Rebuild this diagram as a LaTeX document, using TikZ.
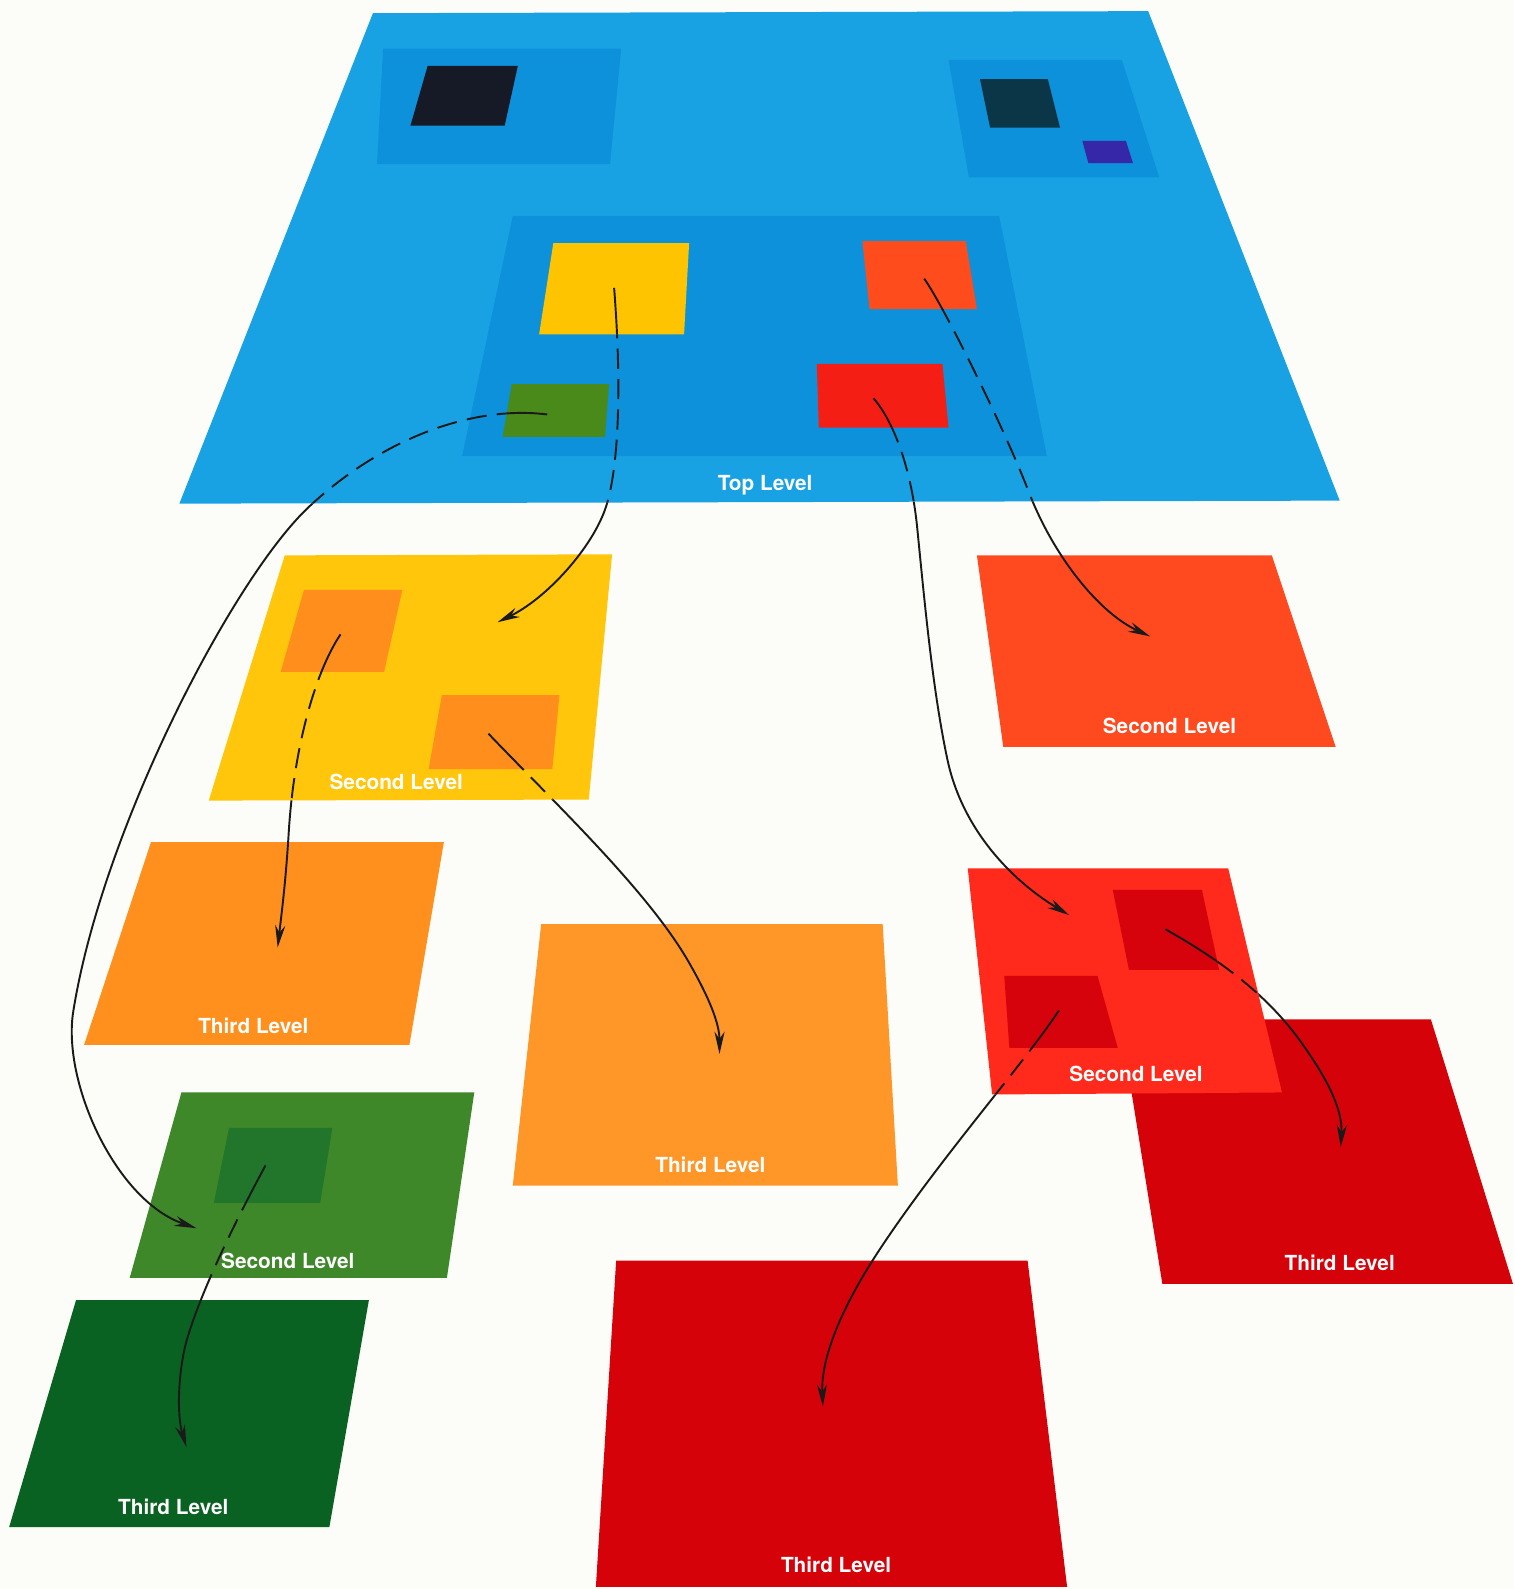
\documentclass[tikz,border=0pt]{standalone}
\usepackage{fontspec}
\newfontfamily\lblfont{TeX Gyre Heros}
\usetikzlibrary{arrows.meta}
\definecolor{cPaper}{RGB}{252,252,248}
\definecolor{cBlue}{RGB}{24,162,228}
\definecolor{cBlueIn}{RGB}{12,145,218}
\definecolor{cNavy}{RGB}{22,26,38}
\definecolor{cTeal}{RGB}{10,54,72}
\definecolor{cPurple}{RGB}{54,38,168}
\definecolor{cYellow}{RGB}{255,196,0}
\definecolor{cOrRed}{RGB}{255,76,28}
\definecolor{cGreenSq}{RGB}{74,138,26}
\definecolor{cRedSq}{RGB}{244,30,20}
\definecolor{cYelB}{RGB}{255,198,12}
\definecolor{cOrIn}{RGB}{255,142,28}
\definecolor{cOrB}{RGB}{255,74,32}
\definecolor{cOrC}{RGB}{255,144,30}
\definecolor{cOrD}{RGB}{255,150,40}
\definecolor{cRedB}{RGB}{255,42,28}
\definecolor{cRedIn}{RGB}{214,2,12}
\definecolor{cRedC}{RGB}{214,2,10}
\definecolor{cGrnB}{RGB}{62,136,42}
\definecolor{cGrnIn}{RGB}{34,118,44}
\definecolor{cGrnC}{RGB}{10,98,34}
\definecolor{cLine}{RGB}{26,26,26}

% planes and inner squares (image pixel coordinates, y downwards)
\def\PTop{(368,13) -- (1133,11) -- (1322,494) -- (177,497) -- cycle}
\def\QYel{(546,240) -- (680,240) -- (675,330) -- (532,330) -- cycle}
\def\QOrR{(851,238) -- (953,238) -- (964,305) -- (858,305) -- cycle}
\def\QGrn{(505,379) -- (601,379) -- (597,431) -- (496,431) -- cycle}
\def\QRed{(806,359) -- (930,359) -- (936,422) -- (808,422) -- cycle}
\def\PYelB{(281,548) -- (604,547) -- (581,789) -- (206,790) -- cycle}
\def\QOrA{(300,582) -- (397,582) -- (379,663) -- (277,663) -- cycle}
\def\QOrB{(436,686) -- (552,686) -- (545,759) -- (423,759) -- cycle}
\def\PRedB{(955,857) -- (1212,857) -- (1265,1078) -- (979,1080) -- cycle}
\def\QRdA{(1098,878) -- (1186,878) -- (1203,957) -- (1114,957) -- cycle}
\def\QRdB{(991,963) -- (1083,963) -- (1103,1034) -- (996,1034) -- cycle}
\def\PGrnB{(179,1078) -- (468,1078) -- (441,1261) -- (128,1261) -- cycle}
\def\QGrA{(226,1113) -- (328,1113) -- (316,1187) -- (211,1187) -- cycle}

\newcommand\linkdraw[3]{%
  \begin{scope}[even odd rule]
    \clip (-10,-10) rectangle (1504,1578) #1 #2;
    \draw[conn,-{Stealth[length=22pt,width=10pt]}] #3;
  \end{scope}
  \begin{scope}[even odd rule]
    \clip #1 #2;
    \draw[conn,dash pattern=on 20pt off 10pt] #3;
  \end{scope}}

\begin{document}
\begin{tikzpicture}[x=1pt,y=-1pt,
  lbl/.style={text=white,font=\lblfont\bfseries\fontsize{20.5}{24}\selectfont,inner sep=0pt},
  conn/.style={draw=cLine,line width=1.9pt}]
\useasboundingbox (0,0) rectangle (1494,1568);
\fill[cPaper] (0,0) rectangle (1494,1568);

% ---- top level ----
\fill[cBlue] \PTop;
\fill[cBlueIn] (378,48) -- (613,48) -- (602,162) -- (372,162) -- cycle;
\fill[cBlueIn] (936,59) -- (1107,59) -- (1144,175) -- (956,175) -- cycle;
\fill[cBlueIn] (506,213) -- (986,213) -- (1033,450) -- (456,450) -- cycle;
\fill[cNavy] (422,65) -- (511,65) -- (498,124) -- (405,124) -- cycle;
\fill[cTeal] (967,78) -- (1034,78) -- (1046,126) -- (977,126) -- cycle;
\fill[cPurple] (1068,139) -- (1111,139) -- (1118,161) -- (1074,161) -- cycle;
\fill[cYellow] \QYel;
\fill[cOrRed] \QOrR;
\fill[cGreenSq] \QGrn;
\fill[cRedSq] \QRed;

% ---- second level yellow ----
\fill[cYelB] \PYelB;
\fill[cOrIn] \QOrA;
\fill[cOrIn] \QOrB;
% ---- second level orange-red ----
\fill[cOrB] (964,548) -- (1255,548) -- (1318,737) -- (990,737) -- cycle;
% ---- third level orange ----
\fill[cOrC] (149,831) -- (438,831) -- (404,1031) -- (83,1031) -- cycle;
\fill[cOrD] (534,912) -- (871,912) -- (886,1170) -- (506,1170) -- cycle;
% ---- third level red (right) behind second level red ----
\fill[cRedC] (1105,1006) -- (1412,1006) -- (1493,1267) -- (1147,1267) -- cycle;
\fill[cRedB] \PRedB;
\fill[cRedIn] \QRdA;
\fill[cRedIn] \QRdB;
% ---- green ----
\fill[cGrnB] \PGrnB;
\fill[cGrnIn] \QGrA;
\fill[cGrnC] (75,1283) -- (364,1283) -- (325,1507) -- (9,1507) -- cycle;
% ---- big red third level ----
\fill[cRedC] (608,1244) -- (1014,1244) -- (1053,1566) -- (588,1566) -- cycle;

% ---- connector end points ----
\coordinate (gs) at (540,409);   \coordinate (ge) at (194,1212);
\coordinate (ys) at (606,284);   \coordinate (ye) at (491,614);
\coordinate (rs) at (862,393);   \coordinate (re) at (1055,903);
\coordinate (os) at (912,275);   \coordinate (oe) at (1135,628);
\coordinate (yas) at (336,626);  \coordinate (yae) at (274,935);
\coordinate (ybs) at (482,724);  \coordinate (ybe) at (710,1040);
\coordinate (ras) at (1150,917); \coordinate (rae) at (1323,1132);
\coordinate (rbs) at (1045,997); \coordinate (rbe) at (812,1388);
\coordinate (gas) at (262,1150); \coordinate (gae) at (184,1428);

% ---- connectors ----
\linkdraw{\PTop}{\QGrn}{(gs) .. controls (470,400) and (380,430) .. (305,500) .. controls (230,570) and (100,820) .. (72,1000) .. controls (62,1070) and (115,1185) .. (ge)}
\linkdraw{\PTop}{\QYel}{(ys) .. controls (615,400) and (608,470) .. (598,500) .. controls (585,540) and (540,590) .. (ye)}
\linkdraw{\PTop}{\QRed}{(rs) .. controls (885,420) and (900,470) .. (905,520) .. controls (912,590) and (920,680) .. (935,750) .. controls (950,820) and (1000,870) .. (re)}
\linkdraw{\PTop}{\QOrR}{(os) .. controls (930,300) and (990,420) .. (1015,485) .. controls (1040,550) and (1085,605) .. (oe)}
\linkdraw{\PYelB}{\QOrA}{(yas) .. controls (310,665) and (290,740) .. (285,820) .. controls (282,870) and (278,900) .. (yae)}
\linkdraw{\PYelB}{\QOrB}{(ybs) .. controls (550,795) and (640,880) .. (680,950) .. controls (700,985) and (710,1010) .. (ybe)}
\linkdraw{\PRedB}{\QRdA}{(ras) .. controls (1200,945) and (1250,980) .. (1285,1030) .. controls (1310,1065) and (1325,1095) .. (rae)}
\linkdraw{\PRedB}{\QRdB}{(rbs) .. controls (1010,1050) and (930,1140) .. (870,1230) .. controls (830,1290) and (810,1340) .. (rbe)}
\linkdraw{\PGrnB}{\QGrA}{(gas) .. controls (235,1200) and (200,1270) .. (185,1320) .. controls (176,1350) and (174,1395) .. (gae)}

% ---- labels ----
\node[lbl] (ltop) at (755,479) {Top Level};
\node[lbl] (lyel) at (391,772) {Second Level};
\node[lbl] (lorb) at (1154,716) {Second Level};
\node[lbl] (lorc) at (250,1012) {Third Level};
\node[lbl] (lord) at (701,1149) {Third Level};
\node[lbl] (lredb) at (1121,1060) {Second Level};
\node[lbl] (lredc) at (1322,1246) {Third Level};
\node[lbl] (lgrnb) at (284,1244) {Second Level};
\node[lbl] (lgrnc) at (171,1487) {Third Level};
\node[lbl] (lredd) at (825,1544) {Third Level};
\end{tikzpicture}
\end{document}
